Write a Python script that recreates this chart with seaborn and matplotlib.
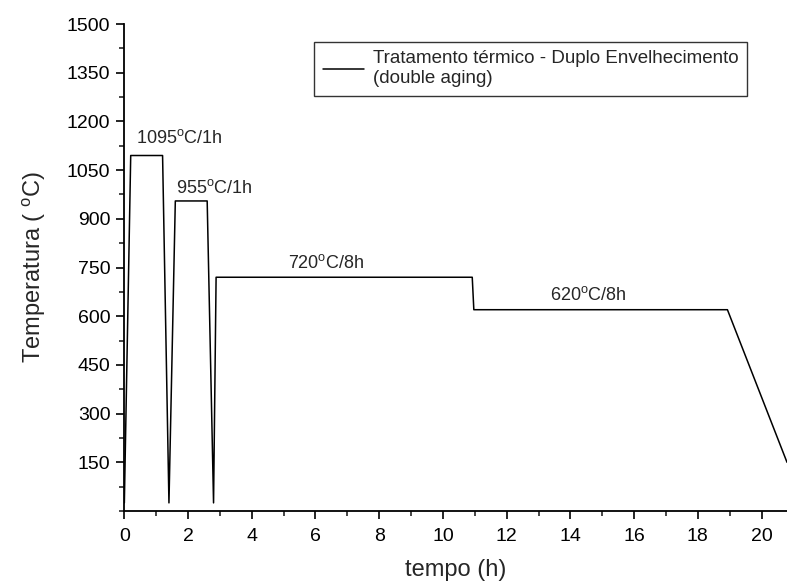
import matplotlib
matplotlib.use("Agg")
import matplotlib.pyplot as plt
from matplotlib.ticker import MultipleLocator
import pandas as pd
import seaborn as sns

# Heat treatment profile (time in h, temperature in C)
tempo = [0.0, 0.2, 1.2, 1.4, 1.6, 2.6, 2.8, 2.88, 10.92, 10.97, 18.93, 20.8]
temperatura = [25, 1095, 1095, 25, 955, 955, 25, 720, 720, 620, 620, 150]

# Step annotations
label_texts = [r"1095$^{\mathrm{o}}$C/1h", r"955$^{\mathrm{o}}$C/1h",
               r"720$^{\mathrm{o}}$C/8h", r"620$^{\mathrm{o}}$C/8h"]
label_x = [1.71, 2.81, 6.32, 14.56]
label_y = [1133, 979, 748, 650]

sns.set_style("ticks")
plt.rcParams["font.family"] = ["Liberation Sans", "DejaVu Sans"]
plt.rcParams["mathtext.fontset"] = "custom"
plt.rcParams["mathtext.rm"] = "Liberation Sans"
plt.rcParams["mathtext.it"] = "Liberation Sans"

df = pd.DataFrame({"tempo": tempo, "temperatura": temperatura})

fig = plt.figure(figsize=(7.87, 5.83), dpi=100)
ax = fig.add_axes([0.158, 0.1235, 0.842, 0.8353])

sns.lineplot(data=df, x="tempo", y="temperatura", sort=False, color="black",
             linewidth=1.1, ax=ax,
             label="Tratamento térmico - Duplo Envelhecimento\n(double aging)")

for txt, x, y in zip(label_texts, label_x, label_y):
    ax.text(x, y, txt, ha="center", va="baseline", fontsize=13)

ax.set_xlim(0, 20.8)
ax.set_ylim(0, 1500)
ax.xaxis.set_major_locator(MultipleLocator(2))
ax.xaxis.set_minor_locator(MultipleLocator(1))
ax.set_yticks(range(150, 1501, 150))
ax.yaxis.set_minor_locator(MultipleLocator(75))
ax.tick_params(which="major", direction="out", length=6, width=1.2, labelsize=14,
               colors="black", pad=4)
ax.tick_params(axis="x", which="major", pad=6)
ax.tick_params(which="minor", direction="out", length=3.5, width=1.2)

for side in ["top", "right"]:
    ax.spines[side].set_visible(False)
for side in ["left", "bottom"]:
    ax.spines[side].set_linewidth(1.3)
    ax.spines[side].set_color("black")

ax.set_xlabel("tempo (h)", fontsize=17, labelpad=10)
ax.set_ylabel(r"Temperatura ( $^{\mathrm{o}}$C)", fontsize=17, labelpad=14)

leg = ax.legend(loc="upper right", bbox_to_anchor=(0.94, 0.963), borderaxespad=0,
                fancybox=False, frameon=True, fontsize=13.5, handlelength=2.2,
                borderpad=0.45, handletextpad=0.5)
leg.get_frame().set_edgecolor("black")
leg.get_frame().set_linewidth(1.0)
leg._legend_box.align = "left"

fig.savefig("out.png", dpi=100)
